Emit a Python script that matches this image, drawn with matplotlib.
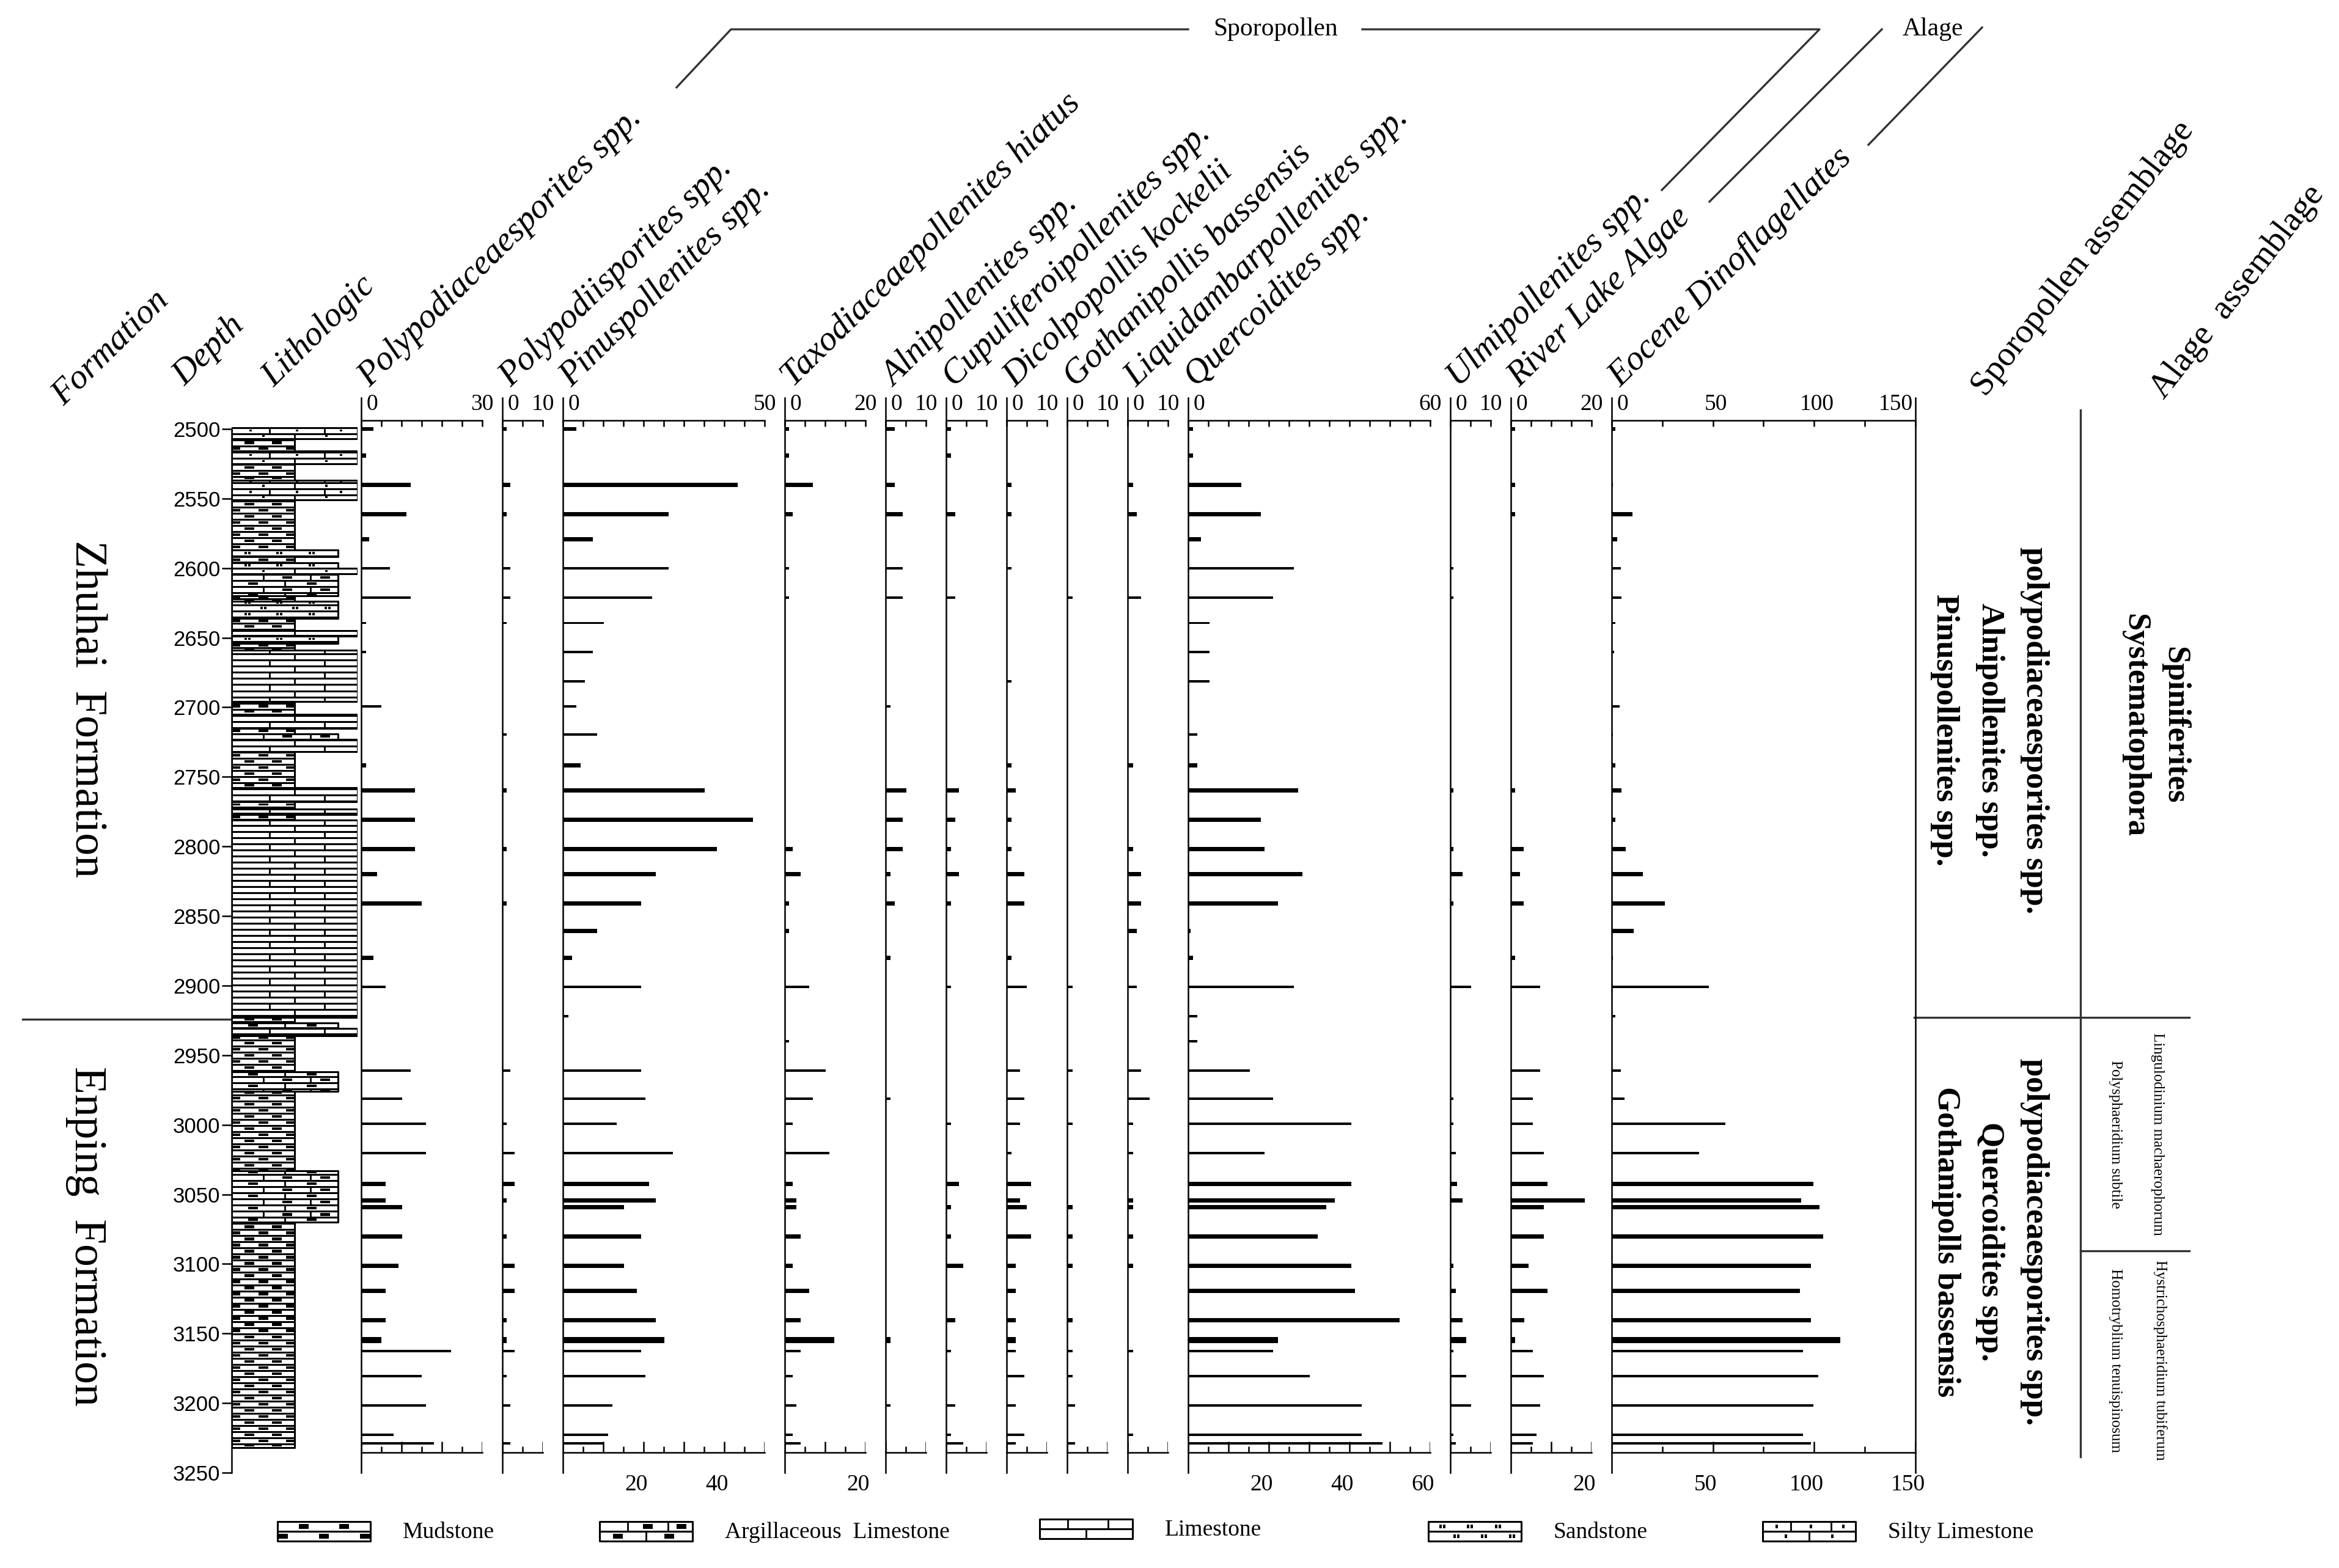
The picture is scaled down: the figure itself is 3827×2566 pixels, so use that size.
import matplotlib
matplotlib.use("Agg")
import matplotlib.pyplot as plt
from matplotlib.patches import Rectangle
from matplotlib.collections import PatchCollection, LineCollection
from matplotlib.transforms import offset_copy
import numpy as np

plt.rcParams['font.family'] = ['Liberation Serif', 'DejaVu Serif']

# ------------------------------------------------------------------ data
# sample depths (m)
depths = [2500, 2519, 2540, 2561, 2579, 2600, 2621, 2639, 2660, 2681,
          2699, 2719, 2741, 2759, 2780, 2801, 2819, 2840, 2860, 2879,
          2900, 2921, 2939, 2960, 2980, 2998, 3019, 3041, 3053, 3058,
          3079, 3100, 3118, 3139, 3153, 3161, 3179, 3200, 3221, 3227]

taxa = ["Polypodiaceaesporites spp.", "Polypodiisporites spp.", "Pinuspollenites spp.",
        "Taxodiaceaepollenites hiatus", "Alnipollenites spp.", "Cupuliferoipollenites spp.",
        "Dicolpopollis kockelii", "Gothanipollis bassensis", "Liquidambarpollenites spp.",
        "Quercoidites spp.", "Ulmipollenites spp.", "River Lake Algae", "Eocene Dinoflagellates"]
taxa_max = [30, 10, 50, 20, 10, 10, 10, 10, 10, 60, 10, 20, 150]

polypodiaceae = [3, 1.2, 12.2, 11.2, 2, 7.1, 12.2, 1.2, 1.2, 0, 5, 0, 1.2, 13.3, 13.3, 13.3, 4, 15, 0,
                 3, 6, 0, 0, 12.2, 10.2, 16, 16, 6, 6, 10.2, 10.2, 9.2, 6, 6, 5, 22.2, 15, 16, 8, 18]
polypodiis = [1, 0, 2, 1, 0, 2, 2, 1, 0, 0, 0, 1, 0, 1, 0, 1, 0, 1, 0,
              0, 0, 0, 0, 2, 0, 1, 3, 3, 1, 0, 1, 3, 3, 1, 1, 3, 1, 2, 0, 2]
pinus = [3.4, 0, 43.3, 26.2, 7.4, 26.2, 22.1, 10.2, 7.4, 5.4, 3.4, 8.5, 4.4, 35.1, 47.1, 38.2, 23.1, 19.4, 8.5,
         2.3, 19.4, 1.3, 0, 19.4, 20.4, 13.3, 27.2, 21.4, 23.1, 15.2, 19.4, 15.2, 18.4, 23.1, 25.2, 19.4, 20.4,
         12.2, 11.2, 10.2]
taxodiaceae = [1.1, 1.1, 7, 1.9, 0, 1.1, 1.1, 0, 0, 0, 0, 0, 0, 0, 0, 1.9, 3.9, 1.1, 1.1,
               0, 6, 0, 1.1, 10.1, 7, 1.9, 11.1, 1.9, 2.9, 2.9, 3.9, 1.9, 6, 3.9, 12.2, 3.9, 1.9, 2.9, 1.9, 3.9]
alni = [2.3, 0, 2.3, 4.2, 0, 4.2, 4.2, 0, 0, 0, 1.2, 0, 0, 5.2, 4.2, 4.2, 1.2, 2.3, 0,
        1.2, 0, 0, 0, 0, 1.2, 0, 0, 0, 0, 0, 0, 0, 0, 0, 1.2, 0, 0, 1.2, 0, 0]
cupuliferoi = [1.2, 1.2, 0, 2.2, 0, 0, 2.2, 0, 0, 0, 0, 0, 0, 3.2, 2.2, 1.2, 3.2, 1.2, 0,
               0, 1.2, 0, 0, 0, 0, 1.2, 0, 3.2, 0, 1.2, 1.2, 4.3, 0, 2.2, 0, 1.2, 0, 2.2, 1.2, 4.3]
dicolpopollis = [0, 0, 1.2, 1.2, 0, 1.2, 0, 0, 0, 1.2, 0, 0, 1.2, 2.2, 1.2, 1.2, 4.4, 4.4, 0,
                 1.2, 5, 0, 0, 3.3, 4.4, 3.3, 1.2, 6, 3.3, 5, 6, 2.2, 2.2, 2.2, 2.2, 2.2, 4.4, 2.2, 4.4, 2.2]
gothanipollis = [0, 0, 0, 0, 0, 0, 1.3, 0, 0, 0, 0, 0, 0, 0, 0, 0, 0, 0, 0,
                 0, 1.3, 0, 0, 1.3, 0, 1.3, 0, 0, 0, 1.3, 1.3, 1.3, 0, 1.3, 0, 1.3, 1.3, 1.9, 0, 1.9]
liquidambar = [0, 0, 1.3, 2.3, 0, 0, 3.4, 0, 0, 0, 0, 0, 1.3, 0, 0, 1.3, 3.4, 3.4, 2.3,
               0, 2.3, 0, 0, 3.4, 5.5, 1.3, 1.3, 0, 1.3, 1.3, 1.3, 1.3, 0, 0, 0, 1.3, 0, 0, 1.3, 0]
quercoidites = [1.2, 1.2, 13.2, 18.1, 3.2, 26.2, 21.1, 5.3, 5.3, 5.3, 0, 2.2, 2.2, 27.3, 18.1, 19, 28.3, 22.2, 0.6,
                1.2, 26.2, 2.2, 2.2, 15.3, 21.1, 40.4, 19, 40.4, 36.3, 34.2, 32.1, 40.4, 41.4, 52.4, 22.2, 21.1,
                30.1, 43.1, 43.1, 48.2]
ulmi = [0, 0, 0, 0, 0, 0.7, 0.7, 0, 0, 0, 0, 0, 0, 0.7, 0, 0.7, 3, 0.7, 0,
        0, 5.1, 0, 0, 0, 0.7, 0.7, 1.4, 1.7, 3, 0, 0, 0.7, 1.4, 3, 3.9, 0.7, 3.9, 5.1, 0.7, 1.4]
river_lake = [1, 0, 1, 1, 0, 0, 0, 0, 0, 0, 0, 0, 0, 1, 0, 3.2, 2.2, 3.2, 0,
              1, 7.3, 0, 0, 7.3, 5.4, 5.4, 8.2, 9.1, 18.3, 8.2, 8.2, 4.4, 9.1, 3.3, 1, 5.4, 8.2, 7.3, 6.3, 5.4]
dinoflag = [1.9, 0, 0.7, 10.4, 2.7, 4.4, 4.9, 1.7, 1.2, 0, 3.9, 0.7, 1.7, 4.9, 1.7, 7, 15.3, 26.2, 10.9,
            0.7, 48.1, 1.9, 0, 4.4, 6.3, 56.1, 43.2, 99.8, 93.7, 102.7, 104.6, 98.5, 93, 98.5, 113.1, 94.7,
            102.2, 99.8, 94.7, 98.5]

series = [polypodiaceae, polypodiis, pinus, taxodiaceae, alni, cupuliferoi, dicolpopollis,
          gothanipollis, liquidambar, quercoidites, ulmi, river_lake, dinoflag]
bottom_labels = [[], [], [20, 40], [20], [], [], [], [], [], [20, 40, 60], [], [20], [50, 100, 150]]

# lithology column: top, base (m) and rock type
litho_top = [2499, 2507, 2516, 2525, 2537, 2551, 2587, 2592, 2596, 2600, 2604, 2620, 2624, 2636, 2645,
             2649, 2654, 2659, 2696, 2705, 2715, 2719, 2723, 2732, 2758, 2768, 2773, 2777, 2781, 2923,
             2927, 2931, 2936, 2962, 2976, 3033, 3070]
litho_base = litho_top[1:] + [3232]
litho_kind = ["silty", "mudstone", "silty", "mudstone", "silty", "mudstone", "sandstone", "mudstone",
              "sandstone", "silty", "argillaceous", "mudstone", "sandstone", "mudstone", "limestone",
              "sandstone", "mudstone", "limestone", "mudstone", "limestone", "mudstone", "argillaceous",
              "limestone", "mudstone", "limestone", "mudstone", "limestone", "mudstone", "limestone",
              "mudstone", "argillaceous", "limestone", "mudstone", "argillaceous", "mudstone",
              "argillaceous", "mudstone"]

formation_names = ["Zhuhai  Formation", "Enping  Formation"]
formation_boundary = 2923

legend_kind = ["mudstone", "argillaceous", "limestone", "sandstone", "silty"]
legend_names = ["Mudstone", "Argillaceous  Limestone", "Limestone", "Sandstone", "Silty Limestone"]

sporo_boundary = 2922
algae_boundary = 3089
sporo_upper = ["polypodiaceaesporites spp.", "Alnipollenites spp.", "Pinuspollenites spp."]
sporo_lower = ["polypodiaceaesporites spp.", "Quercoidites spp.", "Gothanipolls bassensis"]
algae_upper = ["Spiniferites", "Systematophora"]
algae_mid = ["Lingulodinium machaerophorum", "Polysphaeridium subtile"]
algae_low = ["Hystrichosphaeridium tubiferum", "Homotryblium tenuispinosum"]

# ------------------------------------------------------------------ layout
W, H = 3827, 2566
Y2500, PX_PER_M = 702, 2.283
AX_TOP, AX_BOT = 651, 2410
LINE = 1.8
GREY = "#333333"

fig = plt.figure(figsize=(W / 100, H / 100), dpi=100)
fig.patch.set_facecolor("white")


def px_axes(x0, y0, x1, y1):
    return fig.add_axes([x0 / W, 1 - y1 / H, (x1 - x0) / W, (y1 - y0) / H])


def depth_at(ypx):
    return 2500 + (ypx - Y2500) / PX_PER_M


def y_of(depth):
    return Y2500 + (depth - 2500) * PX_PER_M


d_lo, d_hi = depth_at(AX_BOT), depth_at(AX_TOP)
d_axis_top, d_axis_bot = depth_at(688), depth_at(2377)


def pattern_rows(ax, x0, x1, y0, y1, kind, row_h, origin, unit):
    """fill a box with the brick-like rows used for rock types"""
    boxes, marks, lines = [], [], []
    w = x1 - x0
    k = int(np.floor((y0 - origin) / row_h + 1e-9))
    while origin + k * row_h < y1 - 1e-9:
        ra = max(y0, origin + k * row_h)
        rb = min(y1, origin + (k + 1) * row_h)
        h = rb - ra
        boxes.append(Rectangle((x0, ra), w, h))
        even = k % 2 == 0
        if kind in ("limestone", "argillaceous", "silty"):
            for f in ((0.3, 0.74) if even else (0.5,)):
                lines.append([(x0 + f * w, ra), (x0 + f * w, rb)])
        dash = []
        if kind == "mudstone":
            dash = (0.28, 0.72) if even else (0.06, 0.5, 0.94)
        elif kind == "argillaceous":
            dash = (0.52, 0.88) if even else (0.2, 0.75)
        for f in dash:
            a = max(x0, x0 + f * w - 8 * unit)
            b = min(x1, x0 + f * w + 8 * unit)
            marks.append(Rectangle((a, ra + 0.28 * h), b - a, 0.44 * h))
        dots = []
        if kind == "sandstone":
            dots = (0.15, 0.45, 0.75) if even else (0.3, 0.6, 0.9)
        elif kind == "silty":
            dots = (0.15, 0.52, 0.87) if even else (0.25, 0.75)
        for f in dots:
            for off in ((-3, 3) if kind == "sandstone" else (0,)):
                cx = x0 + f * w + off * unit
                marks.append(Rectangle((cx - 2 * unit, ra + 0.32 * h), 4 * unit, 0.36 * h))
        k += 1
    ax.add_collection(PatchCollection(boxes, facecolor="white", edgecolor="black", linewidth=2.2))
    ax.add_collection(LineCollection(lines, colors="black", linewidths=2.0))
    ax.add_collection(PatchCollection(marks, facecolor="black", edgecolor="none"))


# ------------------------------------------------------------------ overlay for free text and lines
ov = fig.add_axes([0, 0, 1, 1])
ov.set_xlim(0, W)
ov.set_ylim(H, 0)
ov.axis("off")
ov.patch.set_alpha(0)

# ------------------------------------------------------------------ species panels
bar_weight = "TTTTT" + "ttttttt" + "TTTTTTTT" + "ttttttt" + "TTTTTTT" + "X" + "ttttt"
bar_h = {"T": 3.0, "t": 1.6, "X": 4.4}
heights = [bar_h[c] for c in bar_weight]

x = 591.0
for i, name in enumerate(taxa):
    xmax = taxa_max[i]
    w = xmax * (3.31 if xmax == 150 else 6.6)
    ax = px_axes(x, AX_TOP, x + w, AX_BOT)
    ax.patch.set_visible(False)
    ax.set_xlim(0, xmax)
    ax.set_ylim(d_lo, d_hi)
    ax.barh(depths, series[i], height=heights, color="black", linewidth=0)
    for s in ax.spines.values():
        s.set_linewidth(LINE)
    ax.spines["right"].set_visible(i == len(taxa) - 1)
    ax.spines["top"].set_position(("data", d_axis_top))
    ax.spines["bottom"].set_position(("data", d_axis_bot))
    step, major = (25, 50) if xmax == 150 else (5, 10)
    ticks = np.arange(0, xmax + 0.1, step)
    ax.xaxis.tick_top()
    ax.set_xticks(ticks)
    ax.tick_params(axis="x", direction="in", length=7, width=LINE, labeltop=False)
    ax.set_yticks([])
    tlen = [(18 if t % major == 0 else 10) / PX_PER_M for t in ticks]
    ax.vlines(ticks, [d_axis_bot - l for l in tlen], d_axis_bot, color="black", lw=LINE)

    top_vals = [0, 50, 100, 150] if xmax == 150 else [0, xmax]
    for v in top_vals:
        if v == 0:
            dx, ha = 9, "left"
        elif v == xmax:
            dx, ha = (19, "right") if xmax < 150 else (-4, "right")
        else:
            dx, ha = 5, "center"
        ax.text(v, depth_at(662), f"{v}", ha=ha, va="center", fontsize=27,
                transform=offset_copy(ax.transData, fig=fig, x=dx, y=0, units="dots"))
    for v in bottom_labels[i]:
        ax.text(v, depth_at(2430), f"{v}", ha="center", va="center", fontsize=27,
                transform=offset_copy(ax.transData, fig=fig, x=-12, y=0, units="dots"))

    ov.text(x + 14, 634, name, rotation=44.5, rotation_mode="anchor", ha="left",
            va="baseline", fontsize=41, style="italic")
    x += w + 33

# ------------------------------------------------------------------ lithology column + depth axis
lax = px_axes(379, AX_TOP, 585, AX_BOT)
lax.patch.set_visible(False)
lax.set_xlim(0, 1)
lax.set_ylim(d_lo, d_hi)
for s in ("top", "right", "bottom"):
    lax.spines[s].set_visible(False)
lax.spines["left"].set_linewidth(LINE)
lax.spines["left"].set_bounds(2500, 3250)
lax.set_xticks([])
lax.set_yticks(np.arange(2500, 3251, 50))
lax.tick_params(axis="y", direction="out", length=11.5, width=LINE, labelsize=25, pad=2)
for lab in lax.get_yticklabels():
    lab.set_fontfamily("Liberation Sans")
kind_width = {"mudstone": 0.5, "argillaceous": 0.845, "sandstone": 0.845,
              "limestone": 1.0, "silty": 1.0}
for t, b, k in zip(litho_top, litho_base, litho_kind):
    pattern_rows(lax, 0, kind_width[k], t, b, k, 4.4, 2499, 1 / 206)

# ------------------------------------------------------------------ header text
ov.text(104, 665, "Formation", rotation=44.5, rotation_mode="anchor", ha="left",
        va="baseline", fontsize=41, style="italic")
ov.text(302, 632, "Depth", rotation=44.5, rotation_mode="anchor", ha="left",
        va="baseline", fontsize=41, style="italic")
ov.text(448, 634, "Lithologic", rotation=44.5, rotation_mode="anchor", ha="left",
        va="baseline", fontsize=41, style="italic")
ov.text(3249, 651, "Sporopollen assemblage", rotation=52, rotation_mode="anchor",
        ha="left", va="baseline", fontsize=41)
ov.text(3541, 655, "Alage  assemblage", rotation=52, rotation_mode="anchor",
        ha="left", va="baseline", fontsize=41)

ov.plot([1107, 1196, 1944], [143, 48, 48], color=GREY, lw=2.4)
ov.plot([2229, 2977, 2719], [48, 48, 311], color=GREY, lw=2.4)
ov.text(2087, 48, "Sporopollen", ha="center", va="center", fontsize=30)
ov.plot([3079, 2797], [48, 330], color=GREY, lw=2.4)
ov.plot([3243, 3057], [45, 237], color=GREY, lw=2.4)
ov.text(3162, 48, "Alage", ha="center", va="center", fontsize=30)

# ------------------------------------------------------------------ formation column
yb = y_of(formation_boundary)
ov.plot([37, 379], [yb, yb], color=GREY, lw=2.4)
ov.text(141, 1160, formation_names[0], rotation=270, ha="center", va="center", fontsize=53)
ov.text(141, 2023, formation_names[1], rotation=270, ha="center", va="center", fontsize=53)

# ------------------------------------------------------------------ assemblage columns
ys = y_of(sporo_boundary)
ya = y_of(algae_boundary)
ov.plot([3132, 3582], [ys, ys], color=GREY, lw=2.4)
ov.plot([3404, 3582], [ya, ya], color=GREY, lw=2.4)
ov.plot([3404, 3404], [671, 2384], color=GREY, lw=2.4)

for lines_, xs, yc, fs, wt in [
        (sporo_upper, [3329, 3256, 3182], 1195, 38, "bold"),
        (sporo_lower, [3329, 3256, 3184], 2032, 38, "bold"),
        (algae_upper, [3558, 3493], 1187, 38, "bold"),
        (algae_mid, [3530, 3461], 1856, 18, "normal"),
        (algae_low, [3534, 3461], 2226, 18, "normal")]:
    for txt, xx in zip(lines_, xs):
        ov.text(xx, yc, txt, rotation=270, ha="center", va="center", fontsize=fs, fontweight=wt)

# ------------------------------------------------------------------ legend
legend_x = [454, 981, 1701, 2337, 2884]
for kind, name, lx in zip(legend_kind, legend_names, legend_x):
    dy = -4 if kind == "limestone" else 0
    pattern_rows(ov, lx, lx + 152, 2490 + dy, 2522 + dy, kind, 16, 2490 + dy, 1.0)
    ov.text(lx + 205, 2508 + dy, name, ha="left", va="center", fontsize=27)

fig.savefig("out.png", dpi=100, facecolor="white")
